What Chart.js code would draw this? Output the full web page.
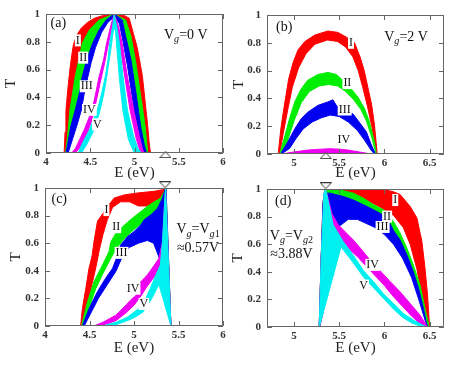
<!DOCTYPE html>
<html><head><meta charset="utf-8">
<script src="https://cdn.jsdelivr.net/npm/chart.js@4.4.1/dist/chart.umd.min.js"></script>
<style>
html,body{margin:0;padding:0;background:#fff;}
#wrap{position:relative;width:463px;height:371px;overflow:hidden;background:#fff;}
canvas{position:absolute;}
</style></head><body><div id="wrap">
<canvas id="ca" width="231" height="185" style="left:0;top:0"></canvas>
<canvas id="cb" width="232" height="185" style="left:231px;top:0"></canvas>
<canvas id="cc" width="231" height="192" style="left:0;top:168px"></canvas>
<canvas id="cd" width="232" height="192" style="left:231px;top:168px"></canvas>
</div>
<script>
// ---------- DATA ----------
const seriesNames = ['I','II','III','IV','V'];
const tTicks = [0, 0.2, 0.4, 0.6, 0.8, 1];
const eTicksAC = [4, 4.5, 5, 5.5, 6];
const eTicksBD = [5, 5.5, 6, 6.5];
const markerE = 5.35;

// panel (a) Vg = 0 V : [E, T] upper / lower envelopes
const aI_up = [[4.205,0],[4.215,0.15],[4.225,0.3],[4.245,0.45],[4.27,0.6],[4.29,0.7],[4.31,0.78],[4.35,0.85],[4.4,0.9],[4.47,0.94],[4.55,0.97],[4.65,0.99],[4.77,1.0],[4.88,0.99],[4.94,0.97],[4.97,0.9],[5.0,0.83],[5.03,0.76],[5.06,0.66],[5.09,0.55],[5.11,0.43],[5.13,0.31],[5.15,0.19],[5.165,0.08],[5.18,0]];
const aI_lo = [[4.235,0],[4.26,0.2],[4.29,0.35],[4.32,0.5],[4.36,0.63],[4.4,0.75],[4.47,0.86],[4.57,0.94],[4.77,0.98],[4.9,0.93],[4.96,0.8],[5.01,0.65],[5.05,0.5],[5.09,0.35],[5.12,0.2],[5.145,0]];
const aII_up = [[4.22,0],[4.24,0.1],[4.255,0.2],[4.27,0.31],[4.3,0.43],[4.33,0.55],[4.37,0.67],[4.41,0.79],[4.49,0.885],[4.6,0.957],[4.77,1.0],[4.9,0.957],[4.96,0.84],[5.01,0.67],[5.066,0.43],[5.12,0.19],[5.15,0]];
const aII_lo = [[4.24,0],[4.29,0.2],[4.34,0.33],[4.38,0.44],[4.42,0.56],[4.47,0.68],[4.53,0.8],[4.61,0.89],[4.7,0.95],[4.77,0.98],[4.85,0.95],[4.89,0.84],[4.95,0.67],[5.01,0.43],[5.06,0.19],[5.11,0]];
const aIII_up = [[4.226,0],[4.255,0.1],[4.28,0.19],[4.33,0.31],[4.377,0.43],[4.41,0.55],[4.46,0.67],[4.527,0.79],[4.6,0.885],[4.68,0.957],[4.77,1.0],[4.86,0.957],[4.9,0.84],[4.96,0.67],[5.017,0.43],[5.07,0.19],[5.11,0.06],[5.135,0]];
const aIII_lo = [[4.25,0],[4.3,0.1],[4.35,0.2],[4.4,0.31],[4.43,0.42],[4.47,0.54],[4.51,0.65],[4.56,0.76],[4.63,0.87],[4.7,0.94],[4.77,0.98],[4.83,0.93],[4.87,0.8],[4.92,0.63],[4.97,0.42],[5.03,0.18],[5.07,0.06],[5.1,0]];
const aIV_up = [[4.29,0],[4.33,0.03],[4.36,0.07],[4.43,0.165],[4.49,0.26],[4.546,0.38],[4.6,0.55],[4.65,0.67],[4.685,0.79],[4.73,0.91],[4.77,1.0],[4.82,0.91],[4.86,0.79],[4.92,0.55],[4.99,0.31],[5.055,0.12],[5.09,0.03],[5.107,0]];
const aIV_lo = [[4.33,0],[4.4,0.05],[4.46,0.13],[4.52,0.24],[4.57,0.38],[4.61,0.5],[4.66,0.64],[4.7,0.77],[4.74,0.89],[4.77,0.96],[4.8,0.89],[4.84,0.76],[4.89,0.55],[4.95,0.31],[5.02,0.1],[5.07,0]];
const aV_up = [[4.365,0],[4.41,0.07],[4.49,0.165],[4.58,0.31],[4.63,0.43],[4.67,0.55],[4.7,0.67],[4.72,0.79],[4.753,0.91],[4.77,1.0],[4.8,0.91],[4.83,0.79],[4.87,0.55],[4.92,0.31],[4.99,0.12],[5.04,0.03],[5.08,0]];
const aV_lo = [[4.4,0],[4.46,0.06],[4.53,0.15],[4.6,0.28],[4.645,0.4],[4.68,0.52],[4.71,0.65],[4.74,0.78],[4.765,0.9],[4.785,0.88],[4.8,0.76],[4.83,0.53],[4.87,0.3],[4.93,0.1],[4.99,0.01],[5.02,0]];

// panel (b) Vg = 2 V
const bI_up = [[4.824,0],[4.853,0.18],[4.88,0.30],[4.91,0.42],[4.94,0.54],[4.99,0.66],[5.044,0.75],[5.12,0.81],[5.23,0.856],[5.375,0.885],[5.485,0.875],[5.58,0.84],[5.67,0.80],[5.735,0.69],[5.78,0.59],[5.82,0.47],[5.86,0.35],[5.89,0.21],[5.92,0]];
const bI_lo = [[4.84,0],[4.88,0.15],[4.93,0.32],[4.98,0.48],[5.05,0.62],[5.13,0.72],[5.23,0.79],[5.37,0.82],[5.48,0.81],[5.57,0.77],[5.65,0.70],[5.71,0.6],[5.76,0.48],[5.81,0.35],[5.86,0.2],[5.9,0.05],[5.915,0]];
const bII_up = [[4.84,0],[4.9,0.135],[4.95,0.255],[5.007,0.375],[5.08,0.47],[5.15,0.53],[5.265,0.572],[5.375,0.587],[5.467,0.572],[5.54,0.53],[5.63,0.47],[5.706,0.41],[5.78,0.327],[5.835,0.23],[5.89,0.087],[5.91,0]];
const bII_lo = [[4.85,0],[4.92,0.08],[5.0,0.24],[5.08,0.37],[5.17,0.45],[5.28,0.49],[5.38,0.5],[5.48,0.49],[5.57,0.45],[5.66,0.39],[5.74,0.32],[5.8,0.24],[5.86,0.12],[5.9,0.02],[5.905,0]];
const bIII_up = [[4.85,0],[4.93,0.087],[5.007,0.18],[5.08,0.255],[5.15,0.30],[5.265,0.35],[5.375,0.375],[5.43,0.39],[5.467,0.35],[5.56,0.30],[5.65,0.29],[5.72,0.23],[5.8,0.16],[5.85,0.075],[5.9,0]];
const bIII_lo = [[4.86,0],[4.95,0.04],[5.02,0.11],[5.1,0.18],[5.2,0.23],[5.3,0.26],[5.4,0.28],[5.5,0.27],[5.6,0.23],[5.7,0.17],[5.78,0.1],[5.85,0.03],[5.89,0]];
const bIV_up = [[4.86,0],[5.0,0.015],[5.15,0.028],[5.3,0.035],[5.4,0.038],[5.5,0.035],[5.6,0.028],[5.72,0.015],[5.85,0]];
const bIV_lo = [[4.86,0],[5.85,0]];

// panel (c) Vg = Vg1 ~ 0.57 V
const cI_up = [[4.40,0],[4.42,0.126],[4.458,0.27],[4.495,0.42],[4.53,0.51],[4.55,0.61],[4.59,0.76],[4.645,0.81],[4.72,0.88],[4.777,0.927],[4.89,0.95],[5.04,0.964],[5.227,0.976],[5.32,0.988],[5.355,1.0],[5.415,0]];
const cI_lo = [[4.43,0],[4.47,0.12],[4.52,0.28],[4.57,0.42],[4.61,0.55],[4.65,0.66],[4.7,0.77],[4.76,0.86],[4.85,0.9],[4.95,0.9],[5.05,0.87],[5.15,0.87],[5.25,0.88],[5.32,0.9],[5.41,0]];
const cII_up = [[4.41,0],[4.477,0.175],[4.55,0.32],[4.645,0.44],[4.72,0.54],[4.74,0.61],[4.795,0.67],[4.89,0.73],[4.96,0.77],[5.077,0.83],[5.15,0.867],[5.227,0.90],[5.3,0.927],[5.35,0.99],[5.36,1.0],[5.415,0]];
const cII_lo = [[4.43,0],[4.5,0.14],[4.57,0.27],[4.65,0.38],[4.73,0.48],[4.8,0.56],[4.9,0.64],[5.0,0.7],[5.1,0.75],[5.2,0.8],[5.28,0.83],[5.41,0]];
const cIII_up = [[4.42,0],[4.495,0.126],[4.59,0.25],[4.68,0.345],[4.758,0.417],[4.795,0.478],[4.85,0.587],[4.927,0.648],[5.0,0.684],[5.077,0.733],[5.115,0.77],[5.19,0.806],[5.265,0.854],[5.32,0.927],[5.35,0.99],[5.36,1.0],[5.415,0]];
const cIII_lo = [[4.44,0],[4.52,0.1],[4.6,0.2],[4.7,0.3],[4.8,0.4],[4.88,0.52],[4.95,0.57],[5.05,0.6],[5.15,0.62],[5.22,0.6],[5.28,0.5],[5.32,0.4],[5.41,0]];
const cIV_up = [[4.55,0],[4.66,0.03],[4.795,0.078],[4.908,0.15],[4.96,0.187],[5.02,0.22],[5.077,0.32],[5.15,0.37],[5.227,0.44],[5.28,0.49],[5.32,0.61],[5.34,0.85],[5.355,1.0],[5.415,0]];
const cIV_lo = [[4.57,0],[4.7,0.015],[4.8,0.04],[4.9,0.09],[5.0,0.15],[5.08,0.22],[5.15,0.29],[5.22,0.35],[5.28,0.4],[5.41,0]];
const cV_up = [[4.645,0],[4.81,0.03],[4.927,0.065],[5.0,0.10],[5.077,0.14],[5.133,0.2],[5.19,0.284],[5.246,0.37],[5.295,0.44],[5.32,0.61],[5.35,0.97],[5.355,1.0],[5.415,0]];
const cV_lo = [[4.66,0],[4.8,0.01],[4.93,0.04],[5.0,0.06],[5.1,0.1],[5.2,0.2],[5.28,0.3],[5.41,0]];

// panel (d) Vg = Vg2 ~ 3.88 V
const dI_up = [[5.278,0],[5.3,0.5],[5.32,0.9],[5.34,1.0],[5.6,1.0],[6.0,0.995],[6.1,0.98],[6.174,0.96],[6.285,0.874],[6.36,0.79],[6.415,0.62],[6.45,0.425],[6.478,0.23],[6.5,0]];
const dI_lo = [[5.285,0],[5.4,0.9],[5.5,0.95],[5.62,0.96],[5.8,0.92],[5.95,0.87],[6.1,0.81],[6.21,0.72],[6.285,0.6],[6.36,0.42],[6.415,0.23],[6.47,0.04],[6.49,0]];
const dII_up = [[5.278,0],[5.3,0.5],[5.325,0.92],[5.345,1.0],[5.45,0.99],[5.544,0.988],[5.656,0.97],[5.767,0.934],[5.878,0.886],[5.99,0.85],[6.1,0.765],[6.174,0.68],[6.25,0.57],[6.32,0.45],[6.396,0.30],[6.45,0.133],[6.496,0]];
const dII_lo = [[5.285,0],[5.45,0.85],[5.6,0.9],[5.7,0.9],[5.8,0.86],[5.9,0.82],[6.0,0.78],[6.1,0.7],[6.2,0.58],[6.3,0.42],[6.4,0.22],[6.47,0.04],[6.49,0]];
const dIII_up = [[5.278,0],[5.3,0.5],[5.32,0.9],[5.335,0.97],[5.396,0.97],[5.544,0.946],[5.656,0.92],[5.767,0.886],[5.878,0.85],[5.99,0.81],[6.063,0.75],[6.1,0.70],[6.174,0.63],[6.25,0.52],[6.32,0.40],[6.378,0.28],[6.433,0.133],[6.47,0.012],[6.49,0]];
const dIII_lo = [[5.285,0],[5.4,0.66],[5.5,0.73],[5.6,0.78],[5.7,0.78],[5.8,0.75],[5.9,0.72],[6.0,0.67],[6.1,0.6],[6.2,0.5],[6.3,0.36],[6.38,0.2],[6.45,0.05],[6.48,0]];
const dIV_up = [[5.278,0],[5.3,0.5],[5.33,0.95],[5.35,1.0],[5.42,0.82],[5.49,0.74],[5.656,0.63],[5.767,0.546],[5.84,0.485],[5.95,0.41],[6.063,0.33],[6.174,0.255],[6.285,0.17],[6.396,0.085],[6.47,0.007],[6.48,0]];
const dIV_lo = [[5.285,0],[5.5,0.62],[5.6,0.57],[5.7,0.51],[5.8,0.44],[5.9,0.37],[6.0,0.3],[6.1,0.22],[6.2,0.15],[6.3,0.08],[6.4,0.02],[6.47,0]];
const dV_up = [[5.278,0],[5.3,0.5],[5.33,0.97],[5.35,1.0],[5.433,0.74],[5.544,0.62],[5.656,0.52],[5.767,0.41],[5.878,0.33],[5.99,0.24],[6.1,0.17],[6.21,0.097],[6.32,0.05],[6.43,0.012],[6.47,0]];
const dV_lo = [[5.28,0],[5.52,0.58],[5.65,0.47],[5.77,0.36],[5.9,0.27],[6.0,0.2],[6.1,0.13],[6.2,0.07],[6.3,0.03],[6.4,0.005],[6.45,0]];

// ---------- STYLE / LAYOUT ----------
const FONT = '"Liberation Serif","DejaVu Serif",serif';
const COLORS = ['#ff0000', '#00ee00', '#0000f0', '#f000f0', '#00f0f0'];

function band(up, lo) {
  return up.map(p => ({x: p[0], y: p[1]})).concat(lo.slice().reverse().map(p => ({x: p[0], y: p[1]})));
}
function triImage(down) {
  const c = document.createElement('canvas'); c.width = 12; c.height = 7;
  const g = c.getContext('2d');
  g.fillStyle = '#fff'; g.strokeStyle = '#333'; g.lineWidth = 1;
  g.beginPath();
  if (!down) { g.moveTo(6, 0.5); g.lineTo(11.5, 6.5); g.lineTo(0.5, 6.5); }
  else { g.moveTo(0.5, 0.5); g.lineTo(11.5, 0.5); g.lineTo(6, 6.5); }
  g.closePath(); g.fill(); g.stroke();
  return c;
}
function measureSegs(ctx, segs, size) {
  let w = 0;
  for (const s of segs) {
    const fs = s.sub ? size * 0.72 : size;
    ctx.font = (s.it ? 'italic ' : '') + fs + 'px ' + FONT;
    s._w = ctx.measureText(s.t).width; s._f = ctx.font; w += s._w;
  }
  return w;
}
function drawRich(ctx, cx, cy, segs, size, bg) {
  const w = measureSegs(ctx, segs, size);
  let x = cx - w / 2;
  if (bg) { ctx.fillStyle = '#fff'; ctx.fillRect(x - 1, cy - size * 0.5, w + 2, size * 1.0); }
  ctx.fillStyle = '#111'; ctx.textBaseline = 'middle'; ctx.textAlign = 'left';
  for (const s of segs) {
    ctx.font = s._f;
    ctx.fillText(s.t, x, cy + (s.sub ? size * 0.32 : 0));
    x += s._w;
  }
}
const R = t => [{t}];
const panels = [
  { id: 'ca', min: 4, max: 6, ticks: eTicksAC, pad: {top: 14, right: 8, left: 0, bottom: 0}, yW: 46, xH: 32, yTitlePad: 4,
    series: [[aI_up, aI_lo], [aII_up, aII_lo], [aIII_up, aIII_lo], [aIV_up, aIV_lo], [aV_up, aV_lo]],
    marker: {T: -0.012, down: false},
    labels: [
      {segs: R('(a)'), E: 4.14, T: 0.93, size: 14},
      {segs: [{t: 'V'}, {t: 'g', sub: 1, it: 1}, {t: '=0 V'}], E: 5.58, T: 0.85, size: 14},
      {segs: R('I'), E: 4.36, T: 0.81, size: 12, bg: 1},
      {segs: R('II'), E: 4.42, T: 0.686, size: 12, bg: 1},
      {segs: R('III'), E: 4.46, T: 0.48, size: 12, bg: 1},
      {segs: R('IV'), E: 4.49, T: 0.31, size: 12, bg: 1},
      {segs: R('V'), E: 4.58, T: 0.206, size: 12, bg: 1}
    ]},
  { id: 'cb', min: 4.7, max: 6.66, ticks: eTicksBD, pad: {top: 15, right: 19, left: 0, bottom: 0}, yW: 36, xH: 31, yTitlePad: 1,
    series: [[bI_up, bI_lo], [bII_up, bII_lo], [bIII_up, bIII_lo], [bIV_up, bIV_lo]],
    marker: {T: -0.012, down: false},
    labels: [
      {segs: R('(b)'), E: 4.89, T: 0.91, size: 14},
      {segs: [{t: 'V'}, {t: 'g', sub: 1, it: 1}, {t: '=2 V'}], E: 6.24, T: 0.84, size: 14},
      {segs: R('I'), E: 5.63, T: 0.80, size: 12, bg: 1},
      {segs: R('II'), E: 5.59, T: 0.51, size: 12, bg: 1},
      {segs: R('III'), E: 5.56, T: 0.32, size: 12, bg: 1},
      {segs: R('IV'), E: 5.55, T: 0.10, size: 12, bg: 1}
    ]},
  { id: 'cc', min: 4, max: 6, ticks: eTicksAC, pad: {top: 20, right: 8, left: 0, bottom: 0}, yW: 45, xH: 34, yTitlePad: 9,
    series: [[cI_up, cI_lo], [cII_up, cII_lo], [cIII_up, cIII_lo], [cIV_up, cIV_lo], [cV_up, cV_lo]],
    marker: {T: 1.024, down: true},
    labels: [
      {segs: R('(c)'), E: 4.16, T: 0.915, size: 14},
      {segs: [{t: 'V'}, {t: 'g', sub: 1, it: 1}, {t: '=V'}, {t: 'g', sub: 1, it: 1}, {t: '1', sub: 1}], E: 5.72, T: 0.70, size: 14},
      {segs: R('\u22480.57V'), E: 5.72, T: 0.565, size: 14},
      {segs: R('I'), E: 4.69, T: 0.84, size: 12, bg: 1},
      {segs: R('II'), E: 4.8, T: 0.716, size: 12, bg: 1},
      {segs: R('III'), E: 4.86, T: 0.53, size: 12, bg: 1},
      {segs: R('IV'), E: 4.99, T: 0.27, size: 12, bg: 1},
      {segs: R('V'), E: 5.11, T: 0.16, size: 12, bg: 1}
    ]},
  { id: 'cd', min: 4.7, max: 6.66, ticks: eTicksBD, pad: {top: 21, right: 19, left: 0, bottom: 0}, yW: 36, xH: 33, yTitlePad: 0,
    series: [[dI_up, dI_lo], [dII_up, dII_lo], [dIII_up, dIII_lo], [dIV_up, dIV_lo], [dV_up, dV_lo]],
    marker: {T: 1.024, down: true},
    labels: [
      {segs: R('(d)'), E: 4.88, T: 0.91, size: 14},
      {segs: [{t: 'V'}, {t: 'g', sub: 1, it: 1}, {t: '=V'}, {t: 'g', sub: 1, it: 1}, {t: '2', sub: 1}], E: 4.97, T: 0.66, size: 14},
      {segs: R('\u22483.88V'), E: 4.97, T: 0.525, size: 14},
      {segs: R('I'), E: 6.12, T: 0.92, size: 12, bg: 1},
      {segs: R('II'), E: 6.03, T: 0.80, size: 12, bg: 1},
      {segs: R('III'), E: 5.98, T: 0.725, size: 12, bg: 1},
      {segs: R('IV'), E: 5.87, T: 0.45, size: 12, bg: 1},
      {segs: R('V'), E: 5.77, T: 0.30, size: 12, bg: 1}
    ]}
];

function framePlugin() {
  return {
    id: 'frame',
    afterDatasetsDraw(chart) {
      const {ctx, chartArea: a, scales: {x, y}} = chart;
      ctx.save();
      ctx.strokeStyle = '#666'; ctx.lineWidth = 1;
      ctx.beginPath();
      ctx.rect(Math.round(a.left) + 0.5, Math.round(a.top) + 0.5, Math.round(a.right - a.left) - 1, Math.round(a.bottom - a.top) - 1);
      const L = 5;
      x.ticks.forEach(t => {
        const px = Math.round(x.getPixelForValue(t.value)) + 0.5;
        ctx.moveTo(px, a.bottom); ctx.lineTo(px, a.bottom - L);
        ctx.moveTo(px, a.top); ctx.lineTo(px, a.top + L);
      });
      y.ticks.forEach(t => {
        const py = Math.round(y.getPixelForValue(t.value)) + 0.5;
        ctx.moveTo(a.left, py); ctx.lineTo(a.left + L, py);
        ctx.moveTo(a.right, py); ctx.lineTo(a.right - L, py);
      });
      ctx.stroke();
      ctx.restore();
    }
  };
}
function labelPlugin(P) {
  return {
    id: 'labels',
    afterDraw(chart) {
      const {ctx, scales: {x, y}} = chart;
      ctx.save();
      for (const L of P.labels) {
        drawRich(ctx, x.getPixelForValue(L.E), y.getPixelForValue(L.T), L.segs, L.size, L.bg);
      }
      ctx.restore();
    }
  };
}

for (const P of panels) {
  const datasets = P.series.map((s, i) => ({
    type: 'line', label: seriesNames[i], data: band(s[0], s[1]),
    borderColor: COLORS[i], backgroundColor: COLORS[i], borderWidth: 1,
    pointRadius: 0, tension: 0, fill: 'shape', order: 10 - i
  }));
  datasets.push({
    type: 'scatter', data: [{x: markerE, y: P.marker.T}], pointStyle: triImage(P.marker.down),
    pointRadius: 6, clip: false, order: 0
  });
  new Chart(document.getElementById(P.id), {
    type: 'line',
    data: {datasets},
    options: {
      responsive: false, animation: false, devicePixelRatio: 1,
      layout: {padding: P.pad},
      plugins: {legend: {display: false}, tooltip: {enabled: false}},
      scales: {
        x: {
          type: 'linear', min: P.min, max: P.max,
          afterBuildTicks: s => { s.ticks = P.ticks.map(v => ({value: v})); },
          afterFit: s => { s.height = P.xH; },
          grid: {display: false, drawTicks: false}, border: {display: false},
          ticks: {padding: 3, autoSkip: false, maxRotation: 0, color: '#333',
                  font: {family: FONT, size: 11, weight: 'bold'}, callback: v => String(v)},
          title: {display: true, text: 'E (eV)', color: '#222',
                  font: {family: FONT, size: 15, lineHeight: 1}, padding: {top: 0, bottom: 4.5}}
        },
        y: {
          type: 'linear', min: 0, max: 1,
          afterBuildTicks: s => { s.ticks = tTicks.map(v => ({value: v})); },
          afterFit: s => { s.width = P.yW; },
          grid: {display: false, drawTicks: false}, border: {display: false},
          ticks: {padding: 6, color: '#333', font: {family: FONT, size: 11, weight: 'bold'}, callback: v => String(v)},
          title: {display: true, text: 'T', color: '#222',
                  font: {family: FONT, size: 15, lineHeight: 1}, padding: {top: P.yTitlePad, bottom: 0}}
        }
      }
    },
    plugins: [framePlugin(), labelPlugin(P)]
  });
}
</script>
</body></html>
